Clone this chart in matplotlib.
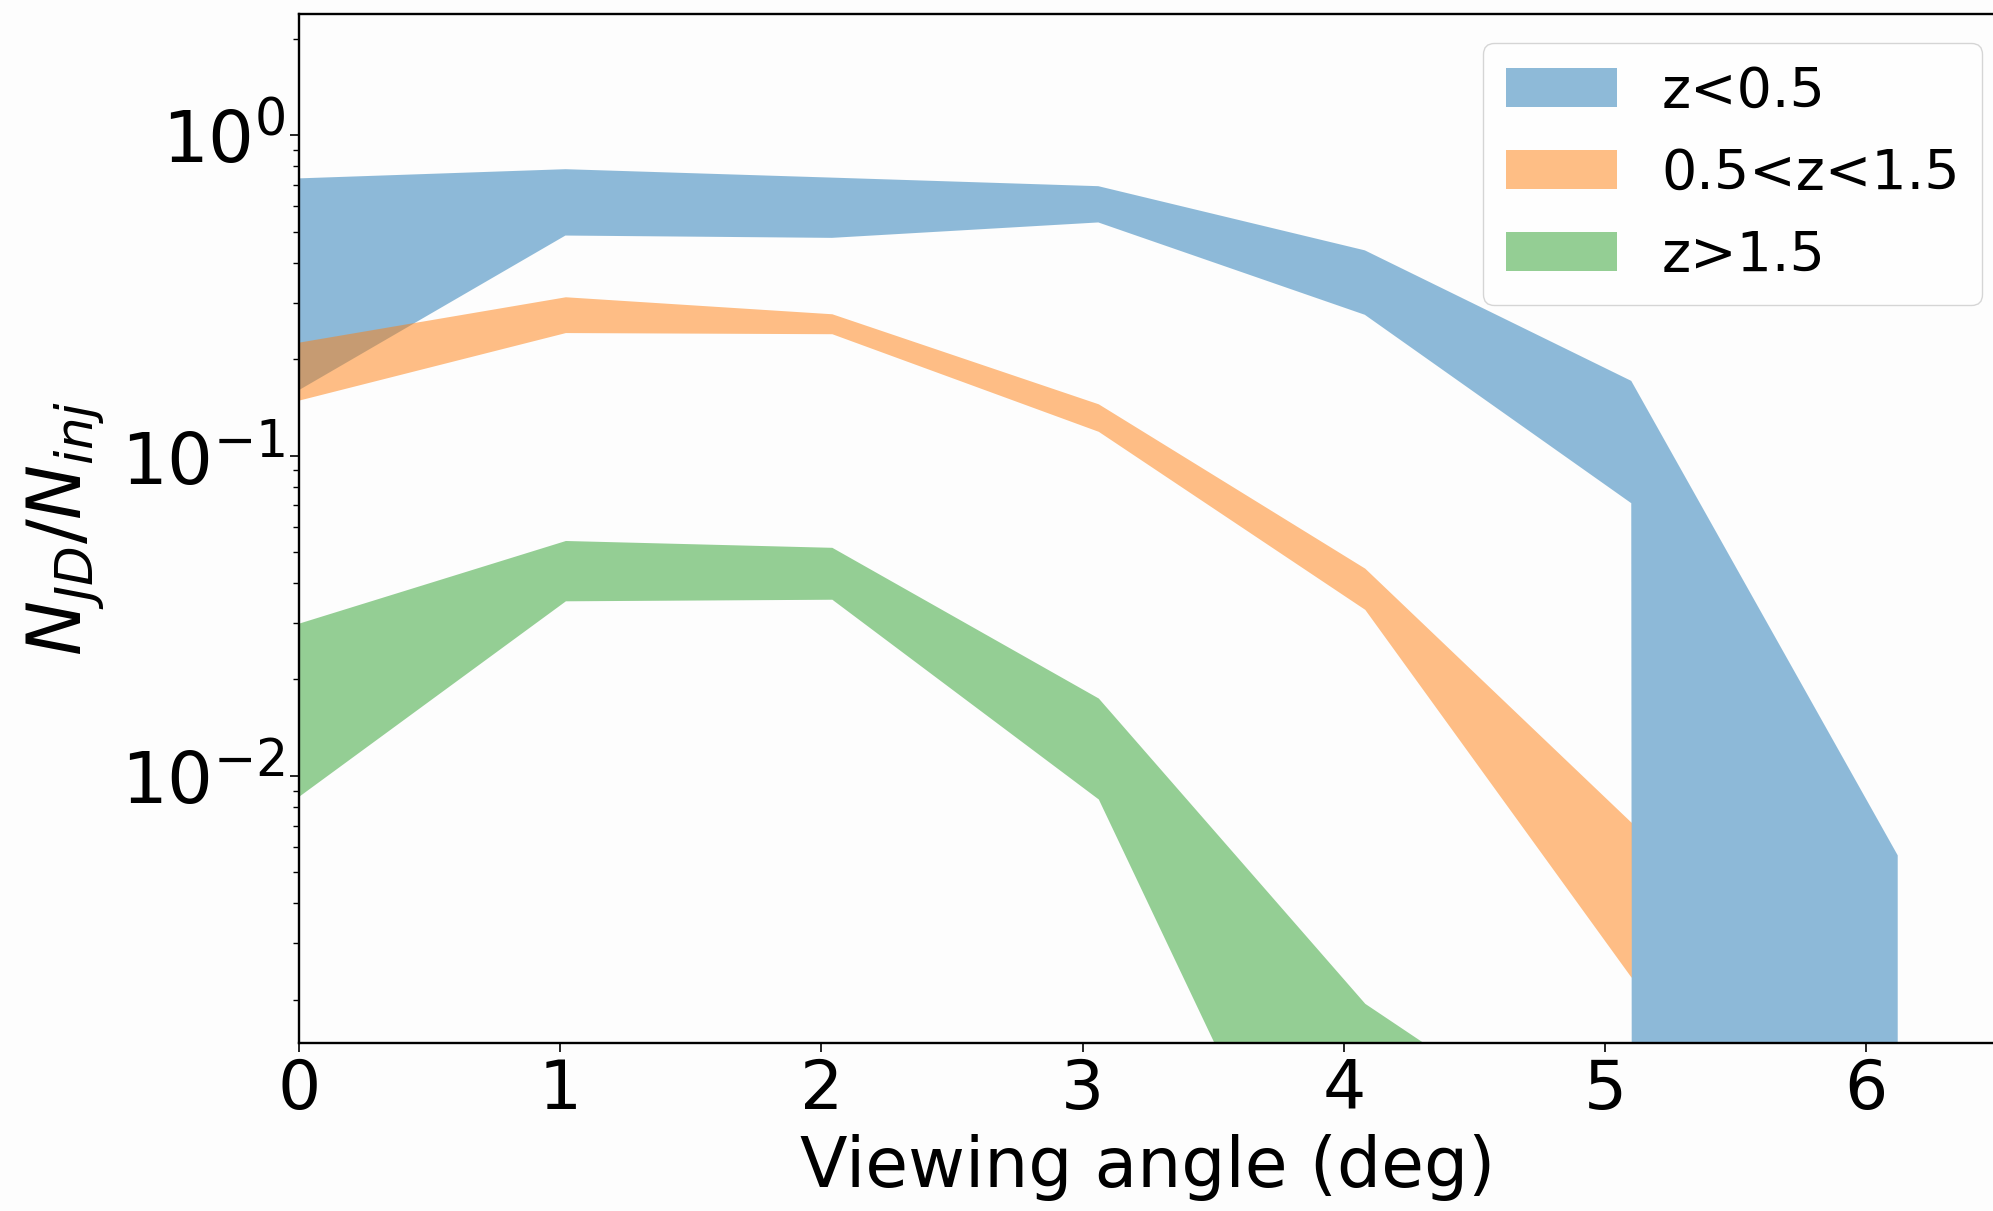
import matplotlib
matplotlib.use("Agg")
import matplotlib.pyplot as plt
import numpy as np

# viewing angle (deg)
angle = [0.0, 1.02, 2.04, 3.06, 4.08, 5.10, 6.12]

# N_JD / N_inj bands (lower, upper)
low_z_lo = [0.160, 0.486, 0.478, 0.534, 0.275, 0.071, 0.0]
low_z_hi = [0.733, 0.783, 0.737, 0.693, 0.437, 0.171, 0.00565]

mid_z_lo = [0.149, 0.242, 0.240, 0.119, 0.0331, 0.00235]
mid_z_hi = [0.226, 0.313, 0.277, 0.145, 0.0445, 0.00716]

high_z_lo = [0.00865, 0.0352, 0.0356, 0.00847, 0.00015, 0.0001]
high_z_hi = [0.0300, 0.0543, 0.0517, 0.0175, 0.00195, 0.00054]

labels = ["z<0.5", "0.5<z<1.5", "z>1.5"]

fig = plt.figure(figsize=(19.93, 12.11), dpi=100, facecolor="#fdfdfd")
ax = fig.add_axes([0.150, 0.139, 0.852, 0.8495])
ax.set_facecolor("#fdfdfd")
ax.set_yscale("log")

ax.fill_between(angle, low_z_lo, low_z_hi, color="C0", alpha=0.5, lw=0, label=labels[0])
ax.fill_between(angle[:6], mid_z_lo, mid_z_hi, color="C1", alpha=0.5, lw=0, label=labels[1])
ax.fill_between(angle[:6], high_z_lo, high_z_hi, color="C2", alpha=0.5, lw=0, label=labels[2])

ax.set_xlim(0, 6.5)
ax.set_ylim(1.47e-3, 2.39)

ax.set_xlabel("Viewing angle (deg)", fontsize=50, labelpad=8)
ax.set_ylabel(r"$N_{JD}/N_{inj}$", fontsize=53, labelpad=10)

ax.tick_params(axis="x", which="major", labelsize=49, length=6.5, width=1.2)
ax.tick_params(axis="y", which="major", labelsize=52, length=6.5, width=1.2)
ax.tick_params(axis="both", which="minor", length=4, width=1.0)
for s in ax.spines.values():
    s.set_linewidth(1.7)

ax.legend(fontsize=40, loc="upper right",
          bbox_to_anchor=(1982 / 1993, 1 - 43 / 1211),
          bbox_transform=fig.transFigure, borderaxespad=0)

fig.savefig("out.png", dpi=100, facecolor=fig.get_facecolor())
